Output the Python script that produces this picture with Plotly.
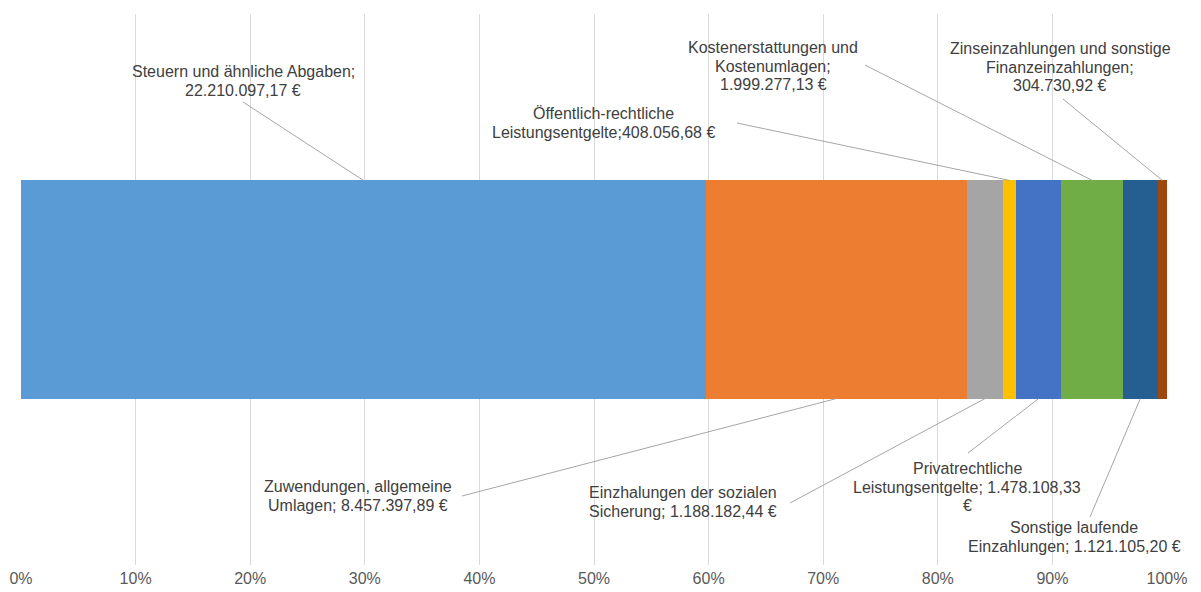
import plotly.graph_objects as go

# ---- data ----
categories = [
    "Steuern und ähnliche Abgaben",
    "Zuwendungen, allgemeine Umlagen",
    "Einzhalungen der sozialen Sicherung",
    "Öffentlich-rechtliche Leistungsentgelte",
    "Privatrechtliche Leistungsentgelte",
    "Kostenerstattungen und Kostenumlagen",
    "Sonstige laufende Einzahlungen",
    "Zinseinzahlungen und sonstige Finanzeinzahlungen",
]
values = [22210097.17, 8457397.89, 1188182.44, 408056.68,
          1478108.33, 1999277.13, 1121105.20, 304730.92]
label_lines = [
    ["Steuern und ähnliche Abgaben;", "22.210.097,17 €"],
    ["Zuwendungen, allgemeine", "Umlagen; 8.457.397,89 €"],
    ["Einzhalungen der sozialen", "Sicherung; 1.188.182,44 €"],
    ["Öffentlich-rechtliche", "Leistungsentgelte;408.056,68 €"],
    ["Privatrechtliche", "Leistungsentgelte; 1.478.108,33", "€"],
    ["Kostenerstattungen und", "Kostenumlagen;", "1.999.277,13 €"],
    ["Sonstige laufende", "Einzahlungen; 1.121.105,20 €"],
    ["Zinseinzahlungen und sonstige", "Finanzeinzahlungen;", "304.730,92 €"],
]
colors = ["#5B9BD5", "#ED7D31", "#A5A5A5", "#FFC000",
          "#4472C4", "#70AD47", "#255E91", "#9E480E"]
tick_vals = list(range(0, 101, 10))
tick_labels = [f"{t}%" for t in tick_vals]

# ---- layout constants ----
FIG_W, FIG_H = 1201, 592
PL, PR, PT, PB = 21, 1167, 14, 565          # plot area in page pixels
ML, MT = PL, PT
MR = FIG_W - PR
MB = FIG_H - PB
BAR_W = 0.396
LINE_H = 18.5
FONT = "Liberation Sans, Arial, sans-serif"

def px2x(px):
    return (px - PL) / (PR - PL) * 100.0

def py2y(py):
    return 0.5 - (py - PT) / (PB - PT)

# label placement: (center x, center y, line end x, line end y, side of bar)
label_pos = [
    (243, 81, 243, 102, "top"),
    (358, 496, 462, 496, "bottom"),
    (683, 502, 790, 503, "bottom"),
    (603, 123, 737, 123, "top"),
    (967, 487, 968, 453, "bottom"),
    (773, 66, 865, 65, "top"),
    (1074, 537, 1090, 517, "bottom"),
    (1060, 67, 1063, 99, "top"),
]

fig = go.Figure()
for name, v, c in zip(categories, values, colors):
    fig.add_trace(go.Bar(
        x=[v], y=[0], orientation="h", name=name,
        marker=dict(color=c, line=dict(width=0)), width=BAR_W,
        hovertemplate=name + ": %{x:.1f}%<extra></extra>",
    ))

total = sum(values)
shapes = []
annotations = []
cum = 0.0
for v, lines, (cx, cy, ex, ey, side) in zip(values, label_lines, label_pos):
    center = (cum + v / 2) / total * 100.0
    cum += v
    yb = BAR_W / 2 if side == "top" else -BAR_W / 2
    shapes.append(dict(type="line", xref="x", yref="y",
                       x0=center, y0=yb, x1=px2x(ex), y1=py2y(ey),
                       line=dict(color="#A6A6A6", width=1)))
    n = len(lines)
    for i, ln in enumerate(lines):
        ly = cy + (i - (n - 1) / 2) * LINE_H
        annotations.append(dict(xref="x", yref="y", x=px2x(cx), y=py2y(ly),
                                text=ln, showarrow=False, align="center",
                                xanchor="center", yanchor="middle",
                                font=dict(family=FONT, size=16, color="#404040")))

fig.update_layout(
    barmode="stack", barnorm="percent",
    width=FIG_W, height=FIG_H,
    margin=dict(l=ML, r=MR, t=MT, b=MB, pad=0, autoexpand=False),
    paper_bgcolor="white", plot_bgcolor="white",
    showlegend=False,
    shapes=shapes, annotations=annotations,
    xaxis=dict(range=[0, 100], tickvals=tick_vals, ticktext=tick_labels,
               showgrid=True, gridcolor="#D9D9D9", gridwidth=1,
               zeroline=False, showline=False, ticks="",
               automargin=False, ticklabelstandoff=2,
               tickfont=dict(family=FONT, size=16, color="#595959"),
               fixedrange=True),
    yaxis=dict(range=[-0.5, 0.5], visible=False, fixedrange=True,
               automargin=False),
)

fig.write_html("out.html",
               config={"displayModeBar": False},
               post_script="document.body.style.margin='0';"
                           "document.body.style.overflow='hidden';")
